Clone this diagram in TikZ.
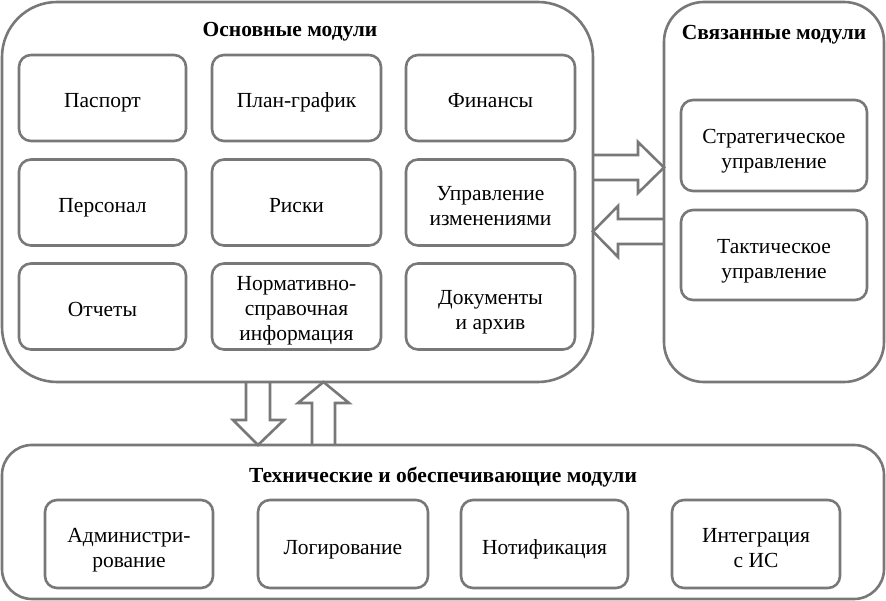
\documentclass[tikz,border=0pt]{standalone}
\usepackage{fontspec}
\setmainfont{Liberation Serif}
\usetikzlibrary{positioning}

\definecolor{linegray}{RGB}{120,120,120}
\tikzstyle{outer}=[draw=linegray, line width=2.6pt, outer sep=0pt, inner sep=0pt]
\tikzstyle{module}=[draw=linegray, line width=2.6pt, rounded corners=12pt, outer sep=0pt,
  align=center, font=\fontsize{21.5}{25}\selectfont, text height=21pt, text depth=1pt]
\tikzstyle{twolines}=[text height=49pt, text depth=2pt]
\tikzstyle{threelines}=[text height=70pt, text depth=2pt]
\tikzstyle{title}=[font=\fontsize{21.5}{25}\selectfont\bfseries, text height=16pt, text depth=2pt]
\tikzstyle{blockarrow}=[draw=linegray, line width=2.6pt, line join=miter]

\begin{document}
\begin{tikzpicture}[x=1pt, y=-1pt]
      \useasboundingbox (0,0) rectangle (886,601);

      % outer groups
      \node[outer, rounded corners=55pt, minimum width=591pt, minimum height=380pt] (main) at (297.5,192) {};
      \node[outer, rounded corners=40pt, minimum width=220pt, minimum height=380pt] (linked) at (774,192) {};
      \node[outer, rounded corners=30pt, minimum width=882pt, minimum height=154pt] (tech) at (443,522) {};

      \node[title] (tmain) at (290,30) {Основные модули};
      \node[title] (tlinked) at (774,33) {Связанные модули};
      \node[title] (ttech) at (443,475) {Технические и обеспечивающие модули};

      % main modules
      \node[module, minimum width=167pt, minimum height=86pt] (passport) at (102.5,98) {Паспорт};
      \node[module, minimum width=169pt, minimum height=86pt] (plan) at (296.5,98) {План-график};
      \node[module, minimum width=169pt, minimum height=86pt] (finance) at (490.5,98) {Финансы};
      \node[module, minimum width=167pt, minimum height=86pt] (staff) at (102.5,202.5) {Персонал};
      \node[module, minimum width=169pt, minimum height=86pt] (risks) at (296.5,202.5) {Риски};
      \node[module, twolines, minimum width=169pt, minimum height=86pt] (changes) at (490.5,202.5) {Управление\\изменениями};
      \node[module, minimum width=167pt, minimum height=86pt] (reports) at (102.5,306.5) {Отчеты};
      \node[module, threelines, minimum width=169pt, minimum height=86pt] (nsi) at (296.5,306.5) {Нормативно-\\справочная\\информация};
      \node[module, twolines, minimum width=169pt, minimum height=86pt] (docs) at (490.5,306.5) {Документы\\и архив};

      % linked modules
      \node[module, twolines, minimum width=186pt, minimum height=91pt] (strat) at (774,145.5) {Стратегическое\\управление};
      \node[module, twolines, minimum width=186pt, minimum height=90pt] (tact) at (774,255) {Тактическое\\управление};

      % technical modules
      \node[module, twolines, minimum width=168pt, minimum height=88pt] (admin) at (129,544) {Администри-\\рование};
      \node[module, minimum width=170pt, minimum height=88pt] (logs) at (343,544) {Логирование};
      \node[module, minimum width=167pt, minimum height=88pt] (notify) at (544.5,544) {Нотификация};
      \node[module, twolines, minimum width=168pt, minimum height=88pt] (integr) at (756,544) {Интеграция\\с ИС};

      % block arrows
      \draw[blockarrow] (main.east |- 0,155) -- (638,155) -- (638,142) -- (linked.west |- 0,167.5)
        -- (638,193) -- (638,180) -- (main.east |- 0,180);
      \draw[blockarrow] (linked.west |- 0,219) -- (618,219) -- (618,206) -- (main.east |- 0,231.5)
        -- (618,257) -- (618,244) -- (linked.west |- 0,244);
      \draw[blockarrow] (main.south -| 246,0) -- (246,420) -- (233,420) -- (tech.north -| 258,0)
        -- (284,420) -- (270,420) -- (main.south -| 270,0);
      \draw[blockarrow] (tech.north -| 312,0) -- (312,403) -- (298,403) -- (main.south -| 323.5,0)
        -- (349,403) -- (335,403) -- (tech.north -| 335,0);
    \end{tikzpicture}
\end{document}
